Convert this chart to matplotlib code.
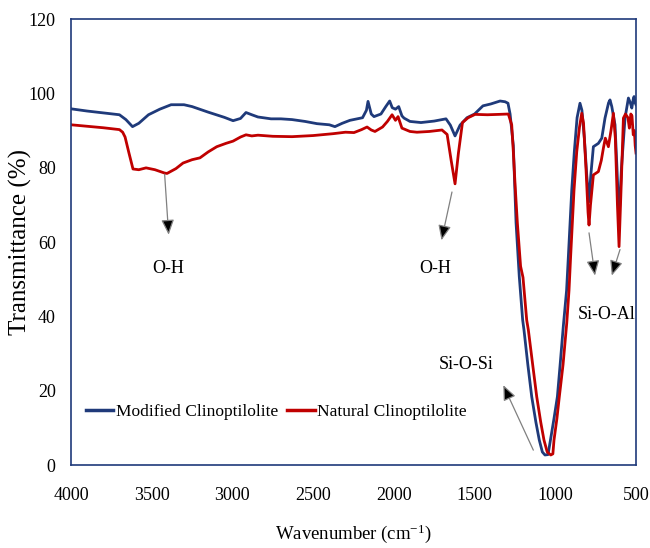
import matplotlib
matplotlib.use("Agg")
import matplotlib.pyplot as plt

plt.rcParams['font.family'] = ['Liberation Serif', 'DejaVu Serif']
plt.rcParams['mathtext.fontset'] = 'custom'
plt.rcParams['mathtext.rm'] = 'Liberation Serif'
plt.rcParams['mathtext.it'] = 'Liberation Serif:italic'
plt.rcParams['mathtext.bf'] = 'Liberation Serif:bold'

# ---- data ----
modified_wn = [4000, 3900, 3800, 3700, 3660, 3619, 3580, 3520, 3450, 3380, 3300, 3250,
               3150, 3050, 2996, 2950, 2916, 2880, 2842, 2761, 2700, 2631, 2550, 2476,
               2400, 2365, 2320, 2272, 2194, 2170, 2160, 2140, 2123, 2080, 2050, 2026,
               2010, 1990, 1970, 1950, 1937, 1900, 1832, 1750, 1677, 1650, 1621, 1590,
               1547, 1500, 1448, 1400, 1342, 1311, 1293, 1280, 1260, 1243, 1223, 1202,
               1194, 1170, 1146, 1120, 1099, 1080, 1064, 1045, 1030, 1008, 987, 970,
               950, 930, 919, 898, 882, 865, 847, 835, 820, 805, 791, 780, 764, 733,
               712, 692, 670, 661, 650, 630, 618, 605, 590, 568, 547, 535, 526, 517,
               512, 505, 500]
modified_t = [95.9, 95.3, 94.8, 94.3, 93.0, 91.1, 92.0, 94.3, 95.8, 97.0, 97.0, 96.5,
              95.0, 93.6, 92.7, 93.3, 94.9, 94.3, 93.7, 93.2, 93.2, 93.0, 92.5, 91.9,
              91.6, 91.1, 92.0, 92.8, 93.5, 95.5, 97.9, 94.5, 93.8, 94.5, 96.5, 98.0,
              96.2, 95.8, 96.5, 94.0, 93.4, 92.5, 92.2, 92.6, 93.2, 91.5, 88.6, 91.5,
              93.5, 94.5, 96.7, 97.2, 98.0, 97.8, 97.4, 94.5, 86.0, 65.2, 50.7, 39.0,
              36.4, 27.0, 18.4, 11.5, 6.7, 3.5, 2.7, 2.8, 6.7, 12.5, 18.4, 27.0,
              37.5, 47.0, 56.1, 74.0, 84.4, 93.5, 97.4, 95.5, 88.0, 78.0, 70.9, 78.0, 85.7, 86.6,
              88.0, 93.4, 97.5, 98.3, 96.5, 91.6, 80.0, 66.0, 80.0, 93.4, 98.8, 97.5, 96.1, 98.5,
              99.2, 97.5, 97.0]

natural_wn = [4000, 3900, 3800, 3700, 3680, 3665, 3641, 3616, 3580, 3535, 3480, 3420,
              3405, 3350, 3306, 3250, 3201, 3150, 3097, 3040, 2996, 2950, 2916, 2880,
              2842, 2750, 2631, 2500, 2377, 2300, 2247, 2200, 2166, 2140, 2117, 2070,
              2040, 2011, 1990, 1974, 1950, 1900, 1857, 1780, 1702, 1670, 1645, 1621,
              1600, 1575, 1540, 1497, 1420, 1350, 1291, 1270, 1260, 1249, 1235, 1215,
              1200, 1177, 1167, 1140, 1115, 1090, 1070, 1050, 1028, 1015, 1008, 990,
              975, 952, 929, 915, 905, 884, 867, 850, 836, 825, 810, 797, 791, 782,
              764, 733, 715, 702, 690, 671, 655, 640, 628, 615, 605, 592, 578, 565,
              550, 541, 532, 525, 517, 510, 505, 500]
natural_t = [91.6, 91.2, 90.8, 90.3, 89.6, 88.3, 84.0, 79.7, 79.5, 80.0, 79.5, 78.6,
             78.5, 79.8, 81.3, 82.2, 82.7, 84.3, 85.7, 86.6, 87.2, 88.3, 88.9, 88.6,
             88.8, 88.5, 88.4, 88.7, 89.2, 89.6, 89.5, 90.3, 91.0, 90.2, 89.8, 91.0,
             92.5, 94.3, 92.8, 93.8, 90.7, 89.8, 89.6, 89.8, 90.2, 89.0, 82.0, 75.7,
             84.0, 92.2, 93.5, 94.4, 94.3, 94.4, 94.5, 91.6, 84.4, 75.4, 65.2, 53.5,
             50.5, 39.0, 36.4, 27.0, 18.4, 11.5, 6.7, 3.5, 2.7, 3.0, 6.7, 12.5,
             18.4, 27.0, 38.2, 47.0, 56.1, 74.0, 84.4, 91.0, 94.7, 92.0, 80.0, 68.0, 64.6, 70.0,
             78.1, 79.0, 82.0, 85.3, 88.0, 85.7, 90.0, 94.7, 88.0, 70.0, 58.8, 75.0, 93.4, 94.5,
             93.5, 90.7, 94.5, 94.0, 88.9, 90.0, 86.0, 84.0]

series_names = ["Modified Clinoptilolite", "Natural Clinoptilolite"]
series_colors = ["#1F3A7A", "#C00000"]

x_ticks = [4000, 3500, 3000, 2500, 2000, 1500, 1000, 500]
y_ticks = [0, 20, 40, 60, 80, 100, 120]

# annotations: (label, label_xy, arrow_tail, arrow_head)
annotations = [
    ("O-H", (3395, 53.0), (3420, 78.3), (3395, 62.0)),
    ("O-H", (1743, 53.0), (1640, 73.5), (1705, 60.5)),
    ("Si-O-Si", (1555, 27.0), (1136, 4.0), (1322, 21.5)),
    ("Si-O-Al", (679, 40.4), (791, 62.5), (754, 51.0)),
    (None, None, (599, 58.0), (650, 51.0)),
]

# ---- figure ----
fig = plt.figure(figsize=(6.5, 5.48), dpi=100)
ax = fig.add_axes([71/650, 1-465/548, (636-71)/650, (465-19.3)/548])

ax.plot(modified_wn, modified_t, color=series_colors[0], lw=2.0, label=series_names[0])
ax.plot(natural_wn, natural_t, color=series_colors[1], lw=2.0, label=series_names[1])

ax.set_xlim(4000, 500)
ax.set_ylim(0, 120)
ax.set_xticks(x_ticks)
ax.set_yticks(y_ticks)
ax.tick_params(axis='both', length=0, labelsize=13)
ax.tick_params(axis='x', pad=16)
ax.tick_params(axis='y', pad=11)
for s in ax.spines.values():
    s.set_color("#1F3A7A")
    s.set_linewidth(1.2)

for label, lxy, tail, head in annotations:
    ax.annotate("", xy=head, xytext=tail,
                arrowprops=dict(arrowstyle='-|>,head_length=0.7,head_width=0.3',
                                color='#808080', fc='black',
                                lw=0.9, mutation_scale=13, shrinkA=0, shrinkB=0))
    if label:
        ax.text(lxy[0], lxy[1], label, ha='center', va='center', fontsize=13)

leg = ax.legend(loc='center left', bbox_to_anchor=(0.026, 0.12), ncol=2,
                frameon=False, fontsize=12.5, handlelength=1.6, handletextpad=0.15,
                columnspacing=0.5, borderaxespad=0, borderpad=0)
for line in leg.get_lines():
    line.set_linewidth(2.5)

fig.text(353/650, 1-534/548, 'Wavenumber (cm$^{-1}$)', ha='center', va='center', fontsize=13.5)
fig.text(20/650, 1-242/548, 'Transmittance (%)', ha='center', va='center', rotation=90,
         fontsize=18)

fig.savefig("out.png", dpi=100)
